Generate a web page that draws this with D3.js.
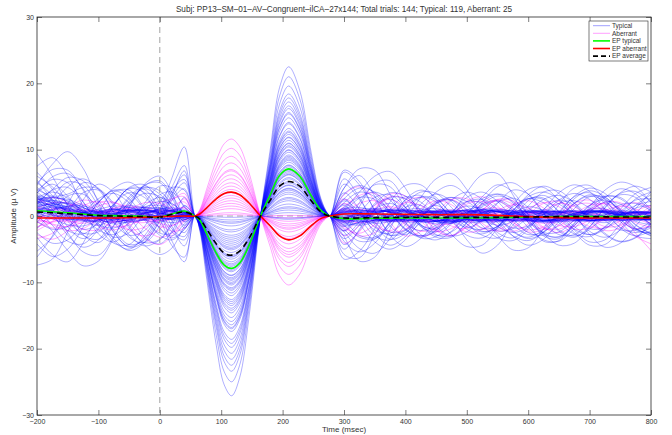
<!DOCTYPE html>
<html><head><meta charset="utf-8">
<script src="https://cdn.jsdelivr.net/npm/d3@7"></script>
<style>body{margin:0;background:#fff}text{font-family:"Liberation Sans",Arial,sans-serif}</style>
</head><body><svg id="c" width="672" height="435"></svg>
<script>
const titleText="Subj: PP13\u2013SM\u201301\u2013AV\u2013Congruent\u2013ilCA\u201327x144; Total trials: 144;  Typical: 119, Aberrant: 25";
const xTicks=[-200,-100,0,100,200,300,400,500,600,700,800];
const yTicks=[-30,-20,-10,0,10,20,30];
const legendLabels=["Typical","Aberrant","EP typical","EP aberrant","EP average"];

const preTimes=[-200,-175,-150,-125,-100,-75,-50,-25,0,20,40];
const midTimes=[57,65,76,92,105,117,130,145,164,180,195,210,228,245,260,270,277];
const troughShape=[0,0.08,0.34,0.72,0.94,1,0.9,0.57,0,0,0,0,0,0,0,0,0];
const peakShape=[0,0,0,0,0,0,0,0,0,0.45,0.86,1,0.84,0.46,0.15,0.04,0];
const postTimes=[300,325,350,375,400,425,450,475,500,525,550,575,600,625,650,675,700,725,750,775,800];

const typicalTrough=[-27.1,-3.2,-8.4,-12.6,-1.5,-19.8,-6.2,-10.4,-4.1,-15.3,-7.6,-23.4,-2.4,-9.3,-13.9,-5.5,-0.6,-11.2,-17.4,-6.9,-8.9,-21.6,-3.8,-14.6,-10.0,-4.7,-25.0,-7.2,-12.0,-0.2,-9.7,-16.4,-5.9,-11.6,-18.6,-2.9,-8.0,-13.2,-6.5,-20.7,-1.1,-10.8,-4.4,-15.9,-7.9,-22.5,-9.0,-3.5,-12.9,-5.1,-17.0,-8.2,-14.2,-2.1,-6.1,-11.0,-0.9,-7.4,-16.8,-4.9,-10.2,-19.2,-13.5,-9.5];
const typicalPeak=[22.5,3.6,6.5,11.8,0.9,16.2,5.8,9.6,2.8,13.9,7.1,19.6,2.6,7.4,12.6,4.1,-0.3,10.4,14.1,6.7,8.1,17.8,4.2,11.9,8.4,5.0,21.0,5.6,10.9,-0.5,9.0,14.8,4.6,9.2,15.4,1.8,7.7,11.0,5.2,18.4,1.4,8.6,3.3,12.8,6.9,17.2,8.8,2.3,10.0,4.7,15.6,6.3,13.2,1.2,6.2,9.9,0.5,7.6,12.3,3.9,10.6,16.6,11.4,7.0];
const typicalPre=[
[2.1,1.5,0.4,-0.6,-0.8,0.2,1.0,0.6,-0.3,-0.5,0.4],
[3.5,4.8,3.0,0.2,-2.1,-2.8,-1.0,1.6,2.8,1.9,0.5],
[1.2,0.3,-0.5,-0.2,0.6,1.1,0.4,-0.6,-0.9,-0.2,0.8],
[9.4,6.0,1.5,-2.8,-4.0,-1.5,2.2,4.1,2.6,-0.8,-2.5],
[0.8,1.6,1.9,0.9,-0.4,-1.2,-0.8,0.3,1.1,1.3,0.6],
[-3.2,-5.8,-6.9,-4.1,0.5,3.6,3.9,1.2,-1.8,-3.0,-1.2],
[2.8,2.0,0.8,0.1,0.3,0.9,1.3,0.7,-0.2,-0.4,0.1],
[4.6,7.8,9.7,7.2,2.0,-2.5,-4.6,-3.4,0.4,3.8,5.5],
[1.5,0.9,0.2,-0.3,-0.4,0.1,0.6,0.9,0.7,0.2,-0.3],
[-7.4,-6.5,-2.4,2.4,4.8,3.5,0.1,-3.1,-4.2,-2.3,1.5],
[2.4,2.9,2.2,0.9,-0.2,-0.5,0.1,0.9,1.2,0.8,0.1],
[5.0,3.1,-0.2,-2.9,-3.5,-1.4,1.8,4.6,5.3,3.1,0.4],
[0.5,-0.4,-1.3,-1.5,-0.6,0.7,1.5,1.2,0.1,-0.6,-0.5],
[3.1,1.0,-2.5,-5.4,-5.9,-3.1,1.2,4.8,6.0,3.5,-1.8],
[1.8,2.3,1.7,0.6,-0.5,-1.0,-0.4,0.5,1.0,0.7,0.3],
[-1.0,1.8,4.4,5.6,4.0,0.6,-2.8,-4.5,-3.6,-1.3,1.6],
[2.2,1.6,1.1,0.8,0.6,0.3,-0.1,-0.3,0.0,0.4,0.6],
[6.6,4.0,0.3,-2.0,-1.1,1.8,4.1,3.5,0.3,-3.8,-6.9],
[0.3,0.9,1.4,1.2,0.5,-0.3,-0.8,-0.6,0.2,0.7,0.5],
[3.8,5.5,5.0,2.2,-1.5,-4.1,-4.3,-1.6,2.1,4.3,3.9],
[1.0,0.4,-0.2,-0.5,-0.3,0.3,0.8,0.8,0.3,-0.1,-0.2],
[-2.5,-4.1,-3.6,-1.0,2.0,3.9,3.4,1.0,-1.9,-3.3,-2.0],
[2.6,1.9,0.7,-0.4,-0.9,-0.6,0.4,1.4,1.6,0.9,0.0],
[4.3,2.5,0.6,0.4,2.1,4.2,5.1,3.3,-0.4,-4.5,-6.2],
[1.4,1.9,2.0,1.3,0.2,-0.7,-1.0,-0.5,0.4,0.9,1.0],
[0.2,-2.3,-5.2,-7.5,-6.8,-3.3,1.4,4.6,5.0,2.7,-0.9],
[3.0,2.2,1.0,0.0,-0.4,-0.1,0.6,1.2,1.2,0.7,0.2],
[2.0,4.0,5.8,5.3,2.4,-1.0,-2.9,-2.2,0.9,4.4,7.6],
[0.6,0.1,-0.3,-0.1,0.5,0.9,0.7,0.1,-0.4,-0.4,0.0],
[-5.3,-3.2,0.5,3.5,3.9,1.6,-1.8,-4.0,-3.5,-0.9,2.8],
[1.9,1.2,0.6,0.5,1.0,1.5,1.3,0.4,-0.6,-1.0,-0.6],
[7.5,8.8,6.1,1.4,-2.7,-3.9,-1.9,1.9,4.5,4.2,1.3],
[2.5,2.8,2.3,1.3,0.3,-0.3,-0.4,0.0,0.6,0.9,0.6],
[1.1,-1.4,-3.8,-4.2,-2.0,1.5,4.3,4.7,2.0,-1.6,-4.5],
[0.9,1.3,1.1,0.4,-0.3,-0.6,-0.2,0.5,0.9,0.6,0.1],
[3.4,5.9,6.4,4.1,0.3,-3.4,-5.2,-4.0,-0.6,3.1,6.8],
[1.6,0.8,-0.1,-0.7,-0.6,0.2,1.0,1.3,0.8,0.0,-0.5],
[-0.8,-2.0,-1.6,0.4,2.6,3.4,2.0,-0.6,-2.9,-3.6,-2.0],
[2.3,1.6,0.9,0.6,0.8,1.0,0.7,0.1,-0.4,-0.3,0.2],
[5.4,2.3,-1.6,-3.4,-1.8,1.6,4.2,4.0,1.0,-2.0,-3.1],
[0.4,1.0,1.5,1.5,0.9,0.1,-0.5,-0.6,-0.1,0.4,0.6],
[2.9,0.4,-2.9,-4.7,-3.6,-0.4,2.9,4.4,3.3,1.2,-0.8],
[1.3,0.7,0.2,0.2,0.6,1.0,0.9,0.3,-0.3,-0.5,-0.3],
[-1.9,0.6,3.0,3.3,1.1,-2.1,-4.3,-3.6,-0.2,3.4,6.2],
[2.0,2.4,1.8,0.7,-0.3,-0.8,-0.6,0.2,1.0,1.1,0.6],
[4.0,3.0,3.3,4.3,4.1,1.9,-1.5,-4.4,-5.8,-4.8,-1.6],
[0.7,0.2,-0.4,-0.8,-0.6,0.1,0.7,0.9,0.5,0.0,-0.2],
[1.7,3.9,4.3,2.1,-1.1,-3.2,-2.5,0.4,3.2,3.6,1.5],
[2.6,2.0,1.2,0.5,0.0,-0.2,0.1,0.5,0.7,0.5,0.2],
[-4.2,-6.1,-5.0,-1.7,2.1,3.8,2.6,-0.3,-2.6,-2.5,0.6],
[1.5,1.8,1.4,0.7,0.0,-0.3,-0.1,0.4,0.8,0.8,0.4],
[6.0,4.4,1.8,-0.6,-1.4,-0.2,1.9,3.4,2.9,1.2,-1.4],
[0.9,0.5,0.3,0.4,0.6,0.6,0.2,-0.3,-0.5,-0.2,0.3],
[2.4,0.1,-2.2,-2.7,-0.9,1.8,3.5,2.8,0.1,-2.4,-3.6],
[3.2,2.4,1.3,0.5,0.2,0.4,0.8,0.9,0.5,0.1,-0.1],
[0.0,2.8,5.1,4.6,1.5,-2.4,-4.7,-3.9,-0.8,2.8,5.0],
[1.2,0.6,0.0,-0.3,-0.1,0.4,0.9,0.9,0.5,0.1,0.0],
[3.6,1.8,-0.8,-2.6,-2.4,-0.2,2.6,4.3,3.8,1.6,-0.5],
[1.8,1.4,0.9,0.5,0.3,0.3,0.5,0.6,0.4,0.1,0.0],
[-6.2,-3.0,1.8,5.0,4.2,0.4,-3.2,-4.0,-1.5,2.4,4.1],
[2.2,2.7,2.5,1.6,0.5,-0.4,-0.7,-0.4,0.3,0.8,0.8],
[4.9,7.0,6.9,3.9,-0.3,-3.8,-5.0,-3.0,0.9,5.8,10.4],
[0.4,-0.2,-0.6,-0.4,0.2,0.7,0.8,0.4,-0.1,-0.3,-0.2],
[2.7,3.6,2.7,0.6,-1.3,-1.8,-0.6,1.2,2.2,1.8,0.6]];
const typicalPost=[
[-0.8,-1.2,-0.6,0.4,0.9,0.5,-0.3,-0.8,-0.5,0.2,0.6,0.4,-0.1,-0.5,-0.4,0.1,0.5,0.5,0.1,-0.3,-0.4],
[4.2,6.1,3.0,-1.5,-2.8,-1.0,0.8,0.5,-1.2,-2.9,-3.3,-1.4,1.5,3.6,3.8,1.9,-0.3,-1.0,0.2,1.6,2.2],
[0.6,0.9,0.4,-0.3,-0.7,-0.5,0.1,0.7,0.8,0.3,-0.3,-0.6,-0.4,0.2,0.6,0.6,0.2,-0.2,-0.5,-0.3,0.1],
[-3.1,-6.8,-6.2,-2.0,2.4,3.1,0.9,-0.8,0.4,2.9,4.7,3.6,0.2,-3.0,-3.4,-1.1,0.9,1.1,-0.6,-2.0,-1.6],
[-1.5,-0.9,0.2,1.0,0.9,0.1,-0.8,-1.0,-0.4,0.5,1.0,0.7,-0.1,-0.8,-0.9,-0.3,0.5,0.9,0.6,0.0,-0.4],
[1.8,0.3,-2.1,-2.6,-0.4,2.8,5.6,6.4,4.0,0.1,-2.2,-1.9,-0.3,0.5,-0.4,-2.5,-4.4,-4.3,-2.0,1.1,3.6],
[-0.4,0.3,0.8,0.6,-0.1,-0.7,-0.8,-0.3,0.4,0.9,0.7,0.0,-0.6,-0.7,-0.2,0.4,0.7,0.4,-0.1,-0.5,-0.4],
[6.9,5.2,0.8,-2.4,-2.1,0.4,1.6,-0.2,-3.6,-5.6,-4.4,-0.8,2.3,3.1,1.8,0.6,1.0,2.8,4.1,3.3,0.9],
[-1.0,-1.4,-0.9,0.1,0.9,1.1,0.5,-0.4,-1.0,-0.8,-0.1,0.6,0.9,0.5,-0.2,-0.7,-0.7,-0.2,0.4,0.7,0.5],
[-2.2,1.4,4.9,5.3,2.1,-1.3,-2.0,-0.3,1.0,-0.2,-2.9,-5.1,-4.8,-1.9,1.7,4.2,4.6,2.5,-0.4,-2.2,-2.6],
[0.9,0.3,-0.5,-0.9,-0.5,0.3,0.9,0.8,0.1,-0.6,-0.9,-0.4,0.4,0.9,0.7,0.0,-0.6,-0.7,-0.2,0.4,0.6],
[-5.0,-2.0,1.7,2.6,0.8,-1.4,-1.8,0.3,3.6,6.2,6.4,3.2,-1.0,-3.8,-3.7,-1.1,1.6,2.4,0.9,-1.3,-2.7],
[0.2,-0.6,-1.1,-0.8,0.1,0.9,1.1,0.5,-0.3,-0.9,-0.8,-0.1,0.6,0.9,0.5,-0.2,-0.7,-0.6,0.0,0.6,0.7],
[3.5,1.0,-2.6,-4.4,-3.1,-0.2,2.2,2.4,0.3,-1.8,-1.6,0.7,3.2,4.5,3.4,0.4,-2.8,-4.7,-4.1,-1.5,1.2],
[-0.3,0.5,1.1,0.9,0.1,-0.8,-1.1,-0.6,0.3,1.0,0.9,0.2,-0.6,-1.0,-0.6,0.2,0.8,0.8,0.2,-0.4,-0.6],
[-2.4,-4.9,-5.6,-3.4,0.4,2.8,2.1,-0.4,-1.7,-0.6,1.9,3.9,3.3,0.5,-2.3,-3.2,-1.6,1.2,3.5,4.5,3.6],
[0.5,0.0,-0.4,-0.4,0.1,0.5,0.5,0.0,-0.5,-0.5,0.0,0.5,0.6,0.2,-0.3,-0.6,-0.3,0.2,0.5,0.4,0.0],
[1.0,3.6,6.0,6.7,4.2,0.1,-2.8,-3.0,-1.0,1.4,2.2,0.8,-1.7,-3.6,-3.8,-1.9,0.6,2.1,1.8,0.2,-1.2],
[-0.7,-0.2,0.5,0.9,0.6,-0.1,-0.7,-0.8,-0.2,0.5,0.8,0.5,-0.2,-0.7,-0.6,0.0,0.6,0.7,0.3,-0.3,-0.5],
[-0.8,-2.9,-3.2,-1.0,1.3,1.6,-0.3,-2.8,-4.6,-4.4,-1.8,1.6,4.0,4.3,2.4,-0.2,-1.9,-1.8,-0.3,1.2,1.6],
[0.3,0.8,0.7,0.0,-0.6,-0.7,-0.2,0.5,0.8,0.5,-0.2,-0.7,-0.6,0.0,0.6,0.8,0.3,-0.3,-0.6,-0.4,0.1],
[5.6,2.8,-1.3,-3.5,-2.6,0.6,3.6,4.6,3.1,0.2,-2.5,-3.3,-1.6,1.0,2.4,1.6,-0.6,-2.8,-3.9,-3.3,-1.2],
[-1.1,-0.5,0.3,0.8,0.7,0.1,-0.5,-0.8,-0.5,0.2,0.7,0.7,0.1,-0.5,-0.7,-0.3,0.3,0.6,0.5,0.0,-0.3],
[-5.8,-6.3,-2.9,1.0,2.9,2.1,0.0,-1.1,-0.2,1.8,3.0,2.2,-0.3,-2.6,-3.2,-1.5,1.4,3.9,5.1,4.4,2.0],
[1.1,1.3,0.6,-0.3,-0.9,-0.8,-0.1,0.6,0.9,0.6,-0.1,-0.7,-0.8,-0.3,0.4,0.8,0.6,0.0,-0.6,-0.7,-0.3],
[2.6,-0.2,-3.0,-3.6,-1.3,1.8,3.3,2.2,-0.4,-2.3,-1.9,0.4,2.6,2.7,0.6,-2.1,-3.9,-3.6,-1.2,1.6,3.2],
[-0.5,-0.9,-0.7,0.0,0.6,0.8,0.4,-0.2,-0.7,-0.7,-0.2,0.4,0.8,0.6,0.0,-0.6,-0.8,-0.4,0.2,0.6,0.6],
[-1.6,2.0,4.7,4.4,1.3,-1.6,-2.4,-1.0,0.9,1.2,-0.6,-3.0,-4.4,-3.5,-0.8,1.9,3.2,2.6,0.8,-0.8,-1.3],
[0.7,0.2,-0.4,-0.7,-0.4,0.2,0.7,0.7,0.2,-0.4,-0.7,-0.4,0.2,0.6,0.6,0.1,-0.4,-0.6,-0.3,0.2,0.5],
[4.2,7.1,6.9,3.3,-0.9,-3.3,-3.1,-1.2,0.6,0.8,-0.5,-1.8,-1.5,0.3,2.4,3.4,2.5,0.4,-1.7,-2.5,-1.8],
[-0.9,-0.3,0.5,1.0,0.8,0.0,-0.8,-1.0,-0.4,0.4,0.9,0.7,0.0,-0.7,-0.8,-0.3,0.4,0.8,0.6,0.0,-0.5],
[-3.4,-1.4,1.0,1.9,0.7,-1.5,-3.2,-3.2,-1.0,2.0,4.4,5.0,3.3,0.4,-2.1,-3.0,-2.0,0.1,1.7,1.9,0.8],
[0.4,1.0,1.1,0.5,-0.3,-0.9,-0.8,-0.1,0.6,1.0,0.6,-0.1,-0.7,-0.8,-0.3,0.4,0.8,0.6,0.0,-0.5,-0.6],
[1.6,-1.2,-3.9,-5.0,-3.6,-0.6,2.0,2.8,1.5,-0.4,-1.4,-0.8,0.8,2.5,3.1,2.0,-0.3,-2.6,-3.8,-3.2,-1.0],
[-0.2,-0.7,-0.9,-0.4,0.3,0.8,0.7,0.1,-0.5,-0.8,-0.5,0.2,0.7,0.7,0.2,-0.4,-0.7,-0.5,0.1,0.5,0.5],
[-4.3,-2.2,0.9,2.8,2.6,0.8,-0.9,-1.1,0.3,2.2,3.3,2.6,0.2,-2.6,-4.4,-4.1,-1.7,1.3,3.4,3.7,2.1],
[1.2,0.6,-0.2,-0.8,-0.8,-0.2,0.5,0.9,0.7,0.0,-0.6,-0.8,-0.4,0.3,0.8,0.7,0.1,-0.5,-0.7,-0.4,0.2],
[2.6,4.2,3.6,1.2,-1.2,-2.2,-1.4,0.4,1.5,0.9,-1.0,-3.0,-3.7,-2.4,0.4,3.0,4.2,3.4,1.0,-1.4,-2.6],
[-0.6,0.1,0.6,0.7,0.2,-0.4,-0.7,-0.5,0.1,0.6,0.7,0.2,-0.4,-0.7,-0.5,0.1,0.6,0.6,0.2,-0.3,-0.5],
[-2.0,-3.8,-3.5,-1.1,1.8,3.6,3.4,1.3,-1.2,-2.4,-1.6,0.3,1.4,0.8,-1.0,-2.7,-3.1,-1.6,1.0,3.4,4.3],
[0.8,0.4,-0.2,-0.6,-0.5,0.0,0.5,0.6,0.2,-0.3,-0.6,-0.4,0.1,0.6,0.6,0.2,-0.3,-0.6,-0.4,0.1,0.5],
[-6.5,-5.3,-1.9,2.1,4.6,4.7,2.4,-0.6,-2.9,-3.3,-1.7,0.9,2.6,2.5,0.7,-1.6,-2.8,-2.0,0.2,2.6,3.6],
[-0.2,0.4,0.8,0.6,0.0,-0.6,-0.8,-0.4,0.3,0.8,0.7,0.1,-0.5,-0.8,-0.4,0.2,0.7,0.7,0.2,-0.4,-0.6],
[1.3,2.8,2.5,0.4,-2.0,-3.2,-2.1,0.5,2.8,3.6,2.2,-0.4,-2.5,-2.9,-1.3,1.1,2.9,2.8,0.7,-1.8,-3.0],
[-1.3,-1.0,-0.2,0.6,0.9,0.5,-0.2,-0.8,-0.8,-0.2,0.5,0.9,0.6,-0.1,-0.7,-0.8,-0.3,0.4,0.8,0.6,0.0],
[4.8,2.5,-0.9,-2.9,-2.5,-0.3,1.9,2.4,0.9,-1.4,-3.3,-3.7,-2.0,0.9,3.5,4.7,3.7,1.0,-1.8,-3.0,-2.2],
[0.1,-0.4,-0.7,-0.5,0.1,0.6,0.7,0.2,-0.4,-0.7,-0.4,0.2,0.7,0.6,0.0,-0.5,-0.7,-0.3,0.3,0.6,0.4],
[-2.3,0.4,2.8,3.2,1.3,-1.3,-2.9,-2.4,-0.5,1.6,2.4,1.2,-0.9,-2.5,-2.4,-0.6,1.6,3.0,2.6,0.7,-1.3],
[0.5,0.8,0.5,-0.1,-0.6,-0.6,-0.1,0.5,0.7,0.4,-0.2,-0.6,-0.5,0.0,0.5,0.6,0.2,-0.3,-0.6,-0.3,0.2],
[3.3,4.6,3.4,0.6,-2.1,-3.0,-1.7,0.6,2.2,1.9,0.0,-2.2,-3.4,-2.5,0.0,2.6,3.8,2.9,0.5,-1.9,-2.9],
[-0.8,-0.3,0.4,0.8,0.6,0.0,-0.6,-0.7,-0.3,0.3,0.7,0.5,-0.1,-0.6,-0.6,-0.1,0.5,0.7,0.4,-0.2,-0.5],
[-1.4,-3.2,-3.4,-1.5,1.2,2.9,2.5,0.4,-1.6,-2.0,-0.6,1.4,2.6,2.0,0.0,-2.0,-2.8,-1.7,0.6,2.4,2.6],
[0.3,-0.3,-0.6,-0.4,0.2,0.6,0.5,0.0,-0.5,-0.6,-0.2,0.4,0.6,0.4,-0.1,-0.5,-0.5,-0.1,0.3,0.5,0.3],
[2.3,0.6,-1.7,-2.9,-2.2,-0.2,1.8,2.8,2.2,0.4,-1.6,-2.5,-1.7,0.2,1.9,2.3,1.2,-0.7,-2.1,-2.1,-0.8],
[-0.4,0.2,0.7,0.7,0.1,-0.5,-0.8,-0.4,0.2,0.7,0.7,0.1,-0.5,-0.7,-0.3,0.3,0.7,0.5,0.0,-0.5,-0.5],
[-3.8,-5.4,-4.1,-0.8,2.5,3.9,2.8,0.2,-2.0,-2.7,-1.5,0.8,2.9,3.6,2.5,0.1,-2.3,-3.2,-2.1,0.4,2.7],
[1.0,0.6,0.0,-0.5,-0.6,-0.2,0.4,0.7,0.5,-0.1,-0.6,-0.6,-0.1,0.5,0.7,0.3,-0.3,-0.6,-0.4,0.1,0.5],
[0.8,2.7,3.6,2.4,-0.3,-2.8,-3.6,-2.3,0.3,2.6,3.3,2.0,-0.6,-2.8,-3.1,-1.4,1.1,2.9,2.8,0.8,-1.6],
[-0.5,-0.8,-0.6,0.0,0.6,0.7,0.3,-0.3,-0.7,-0.6,0.0,0.6,0.7,0.2,-0.4,-0.7,-0.4,0.2,0.6,0.5,0.0],
[6.6,4.7,0.9,-2.9,-4.6,-3.4,-0.5,2.4,3.6,2.5,0.0,-2.4,-3.2,-2.0,0.6,2.9,3.5,1.9,-0.8,-3.0,-3.4],
[-0.1,0.6,1.0,0.6,-0.2,-0.8,-0.8,-0.2,0.5,0.9,0.6,-0.1,-0.7,-0.8,-0.3,0.4,0.8,0.6,0.0,-0.6,-0.6],
[-2.9,-0.9,1.9,3.5,3.0,0.9,-1.6,-3.0,-2.4,-0.2,2.0,2.7,1.3,-1.0,-2.8,-2.8,-0.9,1.6,3.2,2.8,0.6],
[0.6,0.1,-0.5,-0.7,-0.3,0.3,0.7,0.5,-0.1,-0.6,-0.6,-0.1,0.5,0.7,0.3,-0.3,-0.7,-0.4,0.2,0.6,0.5],
[2.0,3.6,2.9,0.6,-1.9,-3.0,-2.2,0.1,2.1,2.5,1.0,-1.3,-2.8,-2.4,-0.4,1.9,3.0,2.2,0.0,-2.0,-2.6]];

const aberrantTrough=[11.6,3.1,7.0,1.5,9.0,4.5,0.5,5.6,2.3,10.2,3.5,6.2,1.1,8.0,2.7,5.0,0.2,4.0,1.9,6.8];
const aberrantPeak=[-10.4,-2.4,-6.2,-1.8,-7.6,-3.6,-0.3,-4.9,-1.5,-8.8,-3.1,-5.4,-0.8,-7.0,-2.0,-4.2,0.1,-3.4,-1.2,-5.8];
const aberrantPre=[
[-0.4,-1.2,-1.6,-0.9,0.3,1.2,1.0,0.0,-1.1,-1.4,-0.6],
[1.3,0.8,0.0,-0.6,-0.5,0.2,0.8,0.9,0.4,-0.1,-0.2],
[-2.2,-0.8,1.2,2.4,1.8,-0.2,-2.1,-3.0,-2.0,0.4,2.6],
[0.2,-0.5,-0.9,-0.6,0.1,0.7,0.8,0.3,-0.3,-0.5,-0.1],
[1.9,2.8,2.0,0.2,-1.5,-2.1,-1.1,0.7,2.0,2.6,2.9],
[-1.0,-0.3,0.6,1.0,0.6,-0.2,-0.8,-0.6,0.2,0.9,1.2],
[-3.4,-2.6,-0.5,1.5,2.2,1.0,-1.2,-3.4,-4.3,-3.0,-0.8],
[0.5,1.1,1.0,0.3,-0.5,-0.9,-0.5,0.3,0.9,0.8,0.2],
[-0.9,-1.8,-1.5,0.0,1.5,2.0,1.1,-0.4,-1.6,-1.5,-0.3],
[0.8,0.1,-0.7,-1.1,-0.6,0.4,1.2,1.3,0.5,0.2,0.6],
[-1.6,-0.9,0.1,0.8,0.7,0.0,-0.8,-1.0,-0.4,0.5,1.3],
[2.6,1.4,-0.6,-2.0,-2.1,-0.8,0.9,2.0,1.9,1.0,0.1],
[-0.3,0.3,0.7,0.5,-0.1,-0.6,-0.6,-0.1,0.5,0.7,0.4],
[-2.8,-3.5,-2.2,0.2,2.0,2.1,0.4,-1.8,-3.2,-2.6,-0.6],
[0.1,-0.4,-0.6,-0.2,0.4,0.8,0.5,-0.2,-0.7,-0.5,0.1],
[1.1,2.0,1.9,0.8,-0.7,-1.6,-1.4,-0.2,1.3,2.4,3.4],
[-0.6,-0.9,-0.5,0.2,0.7,0.6,0.0,-0.6,-0.7,-0.2,0.4],
[-1.8,-0.2,1.4,1.8,0.7,-1.0,-2.1,-1.7,-0.2,1.5,2.1],
[0.4,0.9,0.8,0.1,-0.6,-0.9,-0.4,0.4,0.8,0.5,-0.2],
[-0.2,-1.3,-2.2,-1.9,-0.4,1.1,1.6,0.6,-1.2,-2.3,-1.8]];
const aberrantPost=[
[-1.8,-2.6,-1.3,0.7,2.0,1.6,0.0,-1.5,-1.9,-0.8,0.8,1.7,1.2,-0.2,-1.4,-1.6,-0.6,0.8,1.5,1.0,0.0],
[0.6,1.0,0.6,-0.2,-0.8,-0.7,0.0,0.7,0.8,0.2,-0.5,-0.7,-0.3,0.4,0.7,0.4,-0.2,-0.6,-0.4,0.1,0.4],
[2.5,1.2,-1.0,-2.4,-2.0,0.1,2.0,2.5,1.0,-1.1,-2.3,-1.7,0.2,1.9,2.2,0.9,-1.0,-2.2,-1.8,-0.1,1.5],
[-0.5,0.2,0.7,0.6,0.0,-0.6,-0.7,-0.1,0.5,0.7,0.3,-0.3,-0.7,-0.4,0.2,0.6,0.5,-0.1,-0.5,-0.5,0.0],
[-3.0,-1.4,1.2,2.9,2.6,0.4,-2.0,-2.9,-1.6,0.8,2.5,2.3,0.4,-1.7,-2.5,-1.4,0.6,2.1,2.0,0.5,-1.2],
[0.9,0.4,-0.3,-0.7,-0.4,0.2,0.7,0.6,0.0,-0.6,-0.7,-0.2,0.4,0.7,0.4,-0.2,-0.6,-0.5,0.0,0.5,0.6],
[1.4,3.1,3.4,1.4,-1.4,-3.0,-2.4,-0.1,2.2,2.9,1.5,-0.8,-2.4,-2.0,-0.1,1.9,2.4,1.0,-1.3,-3.1,-4.2],
[-0.8,-0.4,0.3,0.8,0.6,-0.1,-0.7,-0.7,-0.1,0.5,0.7,0.3,-0.3,-0.7,-0.5,0.1,0.6,0.6,0.1,-0.4,-0.5],
[-1.5,-3.0,-2.5,-0.2,2.1,2.8,1.4,-0.9,-2.4,-2.0,-0.2,1.7,2.3,1.2,-0.7,-2.0,-1.8,-0.3,1.4,2.0,1.2],
[0.3,-0.3,-0.7,-0.5,0.1,0.6,0.6,0.1,-0.5,-0.6,-0.2,0.4,0.6,0.3,-0.3,-0.6,-0.4,0.1,0.5,0.5,0.1],
[3.2,4.4,2.4,-1.0,-3.0,-2.3,0.4,2.5,2.6,0.7,-1.5,-2.3,-1.2,0.7,1.9,1.4,-0.3,-1.6,-1.4,-0.1,1.0],
[-0.2,0.5,0.9,0.5,-0.3,-0.8,-0.6,0.1,0.7,0.7,0.1,-0.5,-0.7,-0.2,0.4,0.7,0.4,-0.2,-0.6,-0.4,0.1],
[-2.2,-0.5,1.6,2.5,1.3,-0.8,-2.3,-1.9,-0.1,1.8,2.3,1.0,-0.9,-2.0,-1.5,0.2,1.6,1.8,0.5,-1.0,-1.7],
[1.1,0.6,-0.2,-0.8,-0.7,0.0,0.7,0.9,0.3,-0.4,-0.8,-0.5,0.2,0.7,0.6,0.0,-0.6,-0.7,-0.2,0.4,0.6],
[0.4,1.9,2.3,1.0,-1.0,-2.3,-1.8,0.0,1.8,2.2,0.9,-1.0,-2.1,-1.6,0.1,1.6,1.9,0.7,-0.9,-1.9,-1.5],
[-0.6,-1.0,-0.6,0.2,0.8,0.7,0.0,-0.6,-0.8,-0.3,0.4,0.8,0.5,-0.2,-0.7,-0.6,0.0,0.6,0.7,0.2,-0.3],
[-4.1,-2.4,0.9,3.3,3.0,0.5,-2.2,-3.0,-1.5,0.9,2.4,1.8,-0.1,-1.8,-2.0,-0.7,1.0,1.9,1.1,-0.3,-1.2],
[0.7,0.2,-0.4,-0.6,-0.2,0.4,0.7,0.4,-0.2,-0.6,-0.5,0.0,0.5,0.6,0.2,-0.3,-0.6,-0.3,0.2,0.5,0.4],
[1.9,0.3,-1.6,-2.2,-0.9,1.1,2.3,1.7,-0.2,-1.9,-2.1,-0.7,1.1,2.0,1.4,-0.3,-1.6,-1.8,-0.7,0.8,1.6],
[-1.0,-0.2,0.9,1.4,0.8,-0.4,-1.3,-1.1,0.0,1.0,1.2,0.4,-0.6,-1.1,-0.7,0.2,1.0,1.0,0.1,-2.6,-5.2]];

const epTimes=[-200,-175,-150,-125,-100,-75,-50,-25,0,20,40,57,65,76,92,105,117,130,145,164,180,195,210,228,245,260,270,277,300,350,400,450,500,550,600,650,700,750,800];
const epTypical=[0.8,0.65,0.5,0.3,0.1,0.05,0.0,-0.05,-0.2,0.3,0.75,0,-0.6,-2.6,-5.6,-7.4,-7.9,-7.1,-4.5,0,3.2,6.1,7.1,6.0,3.3,1.1,0.3,0,-0.4,-0.35,-0.3,-0.3,-0.3,-0.25,-0.15,-0.1,-0.1,-0.1,-0.1];
const epAberrant=[-0.3,-0.3,-0.3,-0.3,-0.3,-0.3,-0.25,-0.2,-0.1,-0.05,0,0,0.3,1.2,2.6,3.4,3.6,3.2,2.0,0,-1.5,-3.0,-3.6,-3.0,-1.6,-0.5,-0.1,0,0.3,0.3,0.25,0.2,0.2,0.1,-0.1,-0.25,-0.3,-0.3,-0.3];
const epAverage=[0.6,0.5,0.35,0.2,0.05,0,-0.05,-0.1,-0.2,0.25,0.6,0,-0.45,-1.9,-4.2,-5.6,-5.9,-5.3,-3.4,0,2.4,4.5,5.2,4.5,2.5,0.8,0.2,0,-0.3,-0.25,-0.2,-0.2,-0.2,-0.2,-0.15,-0.1,-0.1,-0.15,-0.15];

const svg=d3.select("#c");
const L=37,R=651,T=17,B=415;
const x=d3.scaleLinear().domain([-200,800]).range([L,R]);
const y=d3.scaleLinear().domain([-30,30]).range([B,T]);

svg.append("defs").append("clipPath").attr("id","clip").append("rect").attr("x",L).attr("y",T).attr("width",R-L).attr("height",B-T);

function trialPoints(pre,trough,peak,post){
  const pts=[];
  preTimes.forEach((t,i)=>pts.push([t,pre[i]]));
  midTimes.forEach((t,i)=>pts.push([t,trough*troughShape[i]+peak*peakShape[i]]));
  postTimes.forEach((t,i)=>pts.push([t,post[i]]));
  return pts;
}
const line=d3.line().x(d=>x(d[0])).y(d=>y(d[1])).curve(d3.curveCatmullRom.alpha(0.5));

const g=svg.append("g").attr("clip-path","url(#clip)");
g.append("line").attr("x1",L).attr("x2",R).attr("y1",y(0)).attr("y2",y(0)).attr("stroke","#999").attr("stroke-dasharray","6,4").attr("stroke-width",0.8);

const typ=typicalPre.map((p,i)=>trialPoints(p,typicalTrough[i],typicalPeak[i],typicalPost[i]));
const abr=aberrantPre.map((p,i)=>trialPoints(p,aberrantTrough[i],aberrantPeak[i],aberrantPost[i]));
g.append("g").selectAll("path").data(abr).join("path").attr("d",line).attr("fill","none").attr("stroke","#ff00ff").attr("stroke-width",0.7).attr("stroke-opacity",0.5);
g.append("g").selectAll("path").data(typ).join("path").attr("d",line).attr("fill","none").attr("stroke","#0000ff").attr("stroke-width",0.7).attr("stroke-opacity",0.45);

svg.append("line").attr("x1",x(0)).attr("x2",x(0)).attr("y1",T).attr("y2",B).attr("stroke","#999").attr("stroke-dasharray","6,4").attr("stroke-width",0.9);

const ep=arr=>epTimes.map((t,i)=>[t,arr[i]]);
g.append("path").attr("d",line(ep(epTypical))).attr("fill","none").attr("stroke","#00ff00").attr("stroke-width",1.6);
g.append("path").attr("d",line(ep(epAberrant))).attr("fill","none").attr("stroke","#ff0000").attr("stroke-width",1.6);
g.append("path").attr("d",line(ep(epAverage))).attr("fill","none").attr("stroke","#000").attr("stroke-width",1.6).attr("stroke-dasharray","6,4");

const axCol="#262626";
function styleAxis(sel){sel.select(".domain").remove();sel.selectAll(".tick line").attr("stroke",axCol).attr("stroke-width",0.6);sel.selectAll("text").attr("fill","#333").style("font-size","7px").style("font-family","'Liberation Sans',Arial,sans-serif");}
svg.append("g").attr("transform",`translate(0,${B})`).call(d3.axisBottom(x).tickValues(xTicks).tickSize(-5).tickPadding(4)).call(styleAxis);
svg.append("g").attr("transform",`translate(0,${T})`).call(d3.axisTop(x).tickValues(xTicks).tickSize(-5).tickFormat("")).call(styleAxis);
svg.append("g").attr("transform",`translate(${L},0)`).call(d3.axisLeft(y).tickValues(yTicks).tickSize(-5).tickPadding(3)).call(styleAxis);
svg.append("g").attr("transform",`translate(${R},0)`).call(d3.axisRight(y).tickValues(yTicks).tickSize(-5).tickFormat("")).call(styleAxis);
svg.append("rect").attr("x",L).attr("y",T).attr("width",R-L).attr("height",B-T).attr("fill","none").attr("stroke",axCol).attr("stroke-width",0.8);

svg.append("text").attr("x",(L+R)/2).attr("y",12).attr("text-anchor","middle").style("font-size","8.2px").attr("fill","#333").text(titleText);
svg.append("text").attr("x",(L+R)/2).attr("y",432).attr("text-anchor","middle").style("font-size","8px").attr("fill","#333").text("Time (msec)");
svg.append("text").attr("transform",`translate(16,${(T+B)/2}) rotate(-90)`).attr("text-anchor","middle").style("font-size","8px").attr("fill","#333").text("Amplitude (\u00b5 V)");

const lg=svg.append("g");
lg.append("rect").attr("x",589).attr("y",21).attr("width",59).attr("height",40).attr("fill","#fff").attr("stroke",axCol).attr("stroke-width",0.6);
const lstyles=[{c:"#8888ff",w:0.8,d:null},{c:"#ff88ff",w:0.8,d:null},{c:"#00ff00",w:1.6,d:null},{c:"#ff0000",w:1.6,d:null},{c:"#000",w:1.6,d:"5,3"}];
legendLabels.forEach((lab,i)=>{
  const yy=25.7+i*7.6;
  lg.append("line").attr("x1",593).attr("x2",610).attr("y1",yy).attr("y2",yy).attr("stroke",lstyles[i].c).attr("stroke-width",lstyles[i].w).attr("stroke-dasharray",lstyles[i].d);
  lg.append("text").attr("x",612).attr("y",yy+2.2).style("font-size","6.5px").attr("fill","#333").text(lab);
});
</script></body></html>
